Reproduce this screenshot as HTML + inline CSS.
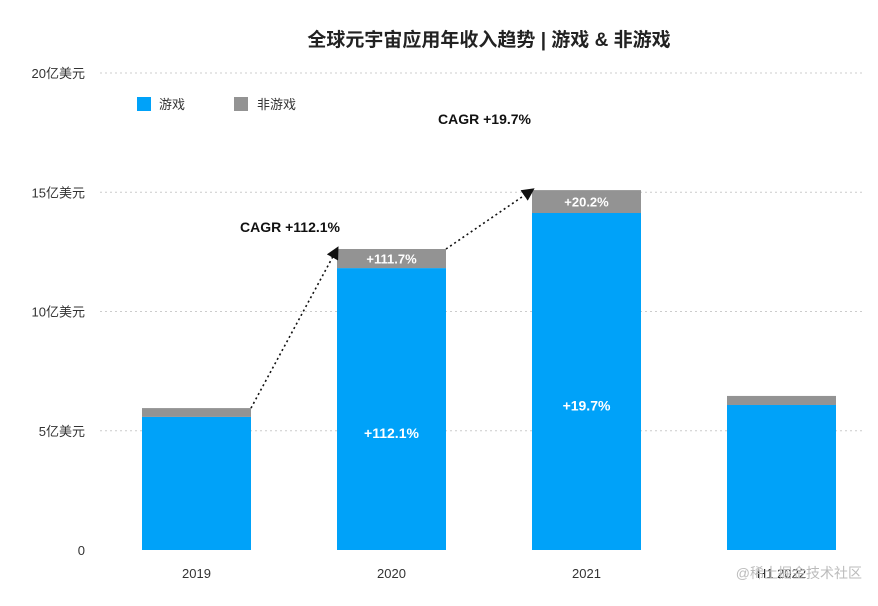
<!DOCTYPE html>
<html><head><meta charset="utf-8"><style>
body{margin:0;background:#fff;}
svg text{font-family:"Liberation Sans","Noto Sans CJK SC",sans-serif;}
</style></head><body>
<svg id="chart" width="878" height="601" viewBox="0 0 878 601">
<defs><marker id="arr" markerWidth="8" markerHeight="8" refX="6" refY="4" orient="auto"><path d="M0,0 L8,4 L0,8 z" fill="#111"/></marker></defs>
<text x="489" y="46" text-anchor="middle" font-size="19" font-weight="bold" fill="#222">全球元宇宙应用年收入趋势 | 游戏 &amp; 非游戏</text>
<g id="grid"></g><g id="bars"></g><g id="ann"></g>
<rect x="137" y="97" width="14" height="14" fill="#00a2f9"/>
<text x="159" y="109" font-size="13" fill="#333">游戏</text>
<rect x="234" y="97" width="14" height="14" fill="#939393"/>
<text x="257" y="109" font-size="13" fill="#333">非游戏</text>
<text x="862" y="578" text-anchor="end" font-size="14" fill="#bbb">@稀土掘金技术社区</text>
</svg>
<script>
const categories=["2019","2020","2021","H1 2022"];
const games=[5.58,11.82,14.13,6.08];
const nonGames=[0.37,0.80,0.96,0.38];
const gameLabels=["","+112.1%","+19.7%",""];
const nonGameLabels=["","+111.7%","+20.2%",""];
const yTicks=[0,5,10,15,20];
const yTickLabels=["0","5亿美元","10亿美元","15亿美元","20亿美元"];
const NS="http://www.w3.org/2000/svg";
const y=v=>550-v*23.85;
const xc=i=>196.5+i*195;
const bw=109;
function mk(tag,attrs,parent,txt){const e=document.createElementNS(NS,tag);for(const k in attrs)e.setAttribute(k,attrs[k]);if(txt!==undefined)e.textContent=txt;document.getElementById(parent).appendChild(e);return e;}
yTicks.forEach((t,i)=>{
  if(t>0){const l=mk('line',{x1:100,x2:862,y1:y(t),y2:y(t),stroke:'#ccc','stroke-dasharray':'2,3'},'grid');
  
  }
  const tx=mk('text',{x:85,y:y(t)+5,'text-anchor':'end','font-size':13,fill:'#333'},'grid',yTickLabels[i]);
  
  
});
categories.forEach((c,i)=>{
  const x0=xc(i)-bw/2;
  const g=mk('rect',{x:x0,y:y(games[i]),width:bw,height:y(0)-y(games[i]),fill:'#00a2f9'},'bars');
  
  
  const tot=games[i]+nonGames[i];
  const n=mk('rect',{x:x0,y:y(tot),width:bw,height:y(games[i])-y(tot),fill:'#939393'},'bars');
  
  
  const xl=mk('text',{x:xc(i),y:578,'text-anchor':'middle','font-size':13,fill:'#333'},'bars',c);
  
  
  if(gameLabels[i]){const t=mk('text',{x:xc(i),y:y(games[i]/2)+29,'text-anchor':'middle','font-size':14,'font-weight':'bold',fill:'#fff'},'bars',gameLabels[i]);
  
  }
  if(nonGameLabels[i]){const t=mk('text',{x:xc(i),y:(y(tot)+y(games[i]))/2+5,'text-anchor':'middle','font-size':13,'font-weight':'bold',fill:'#fff'},'bars',nonGameLabels[i]);
  
  }
});
for(let i=0;i<2;i++){
  const a=mk('line',{x1:xc(i)+bw/2,y1:y(games[i]+nonGames[i]),x2:xc(i+1)-bw/2,y2:y(games[i+1]+nonGames[i+1]),stroke:'#111','stroke-width':1.6,'stroke-dasharray':'2,3','marker-end':'url(#arr)'},'ann');
  
  
}
const c1=mk('text',{x:240,y:232,'font-size':14,'font-weight':'bold',fill:'#111'},'ann','CAGR +112.1%');


const c2=mk('text',{x:438,y:124,'font-size':14,'font-weight':'bold',fill:'#111'},'ann','CAGR +19.7%');


</script>
</body></html>
